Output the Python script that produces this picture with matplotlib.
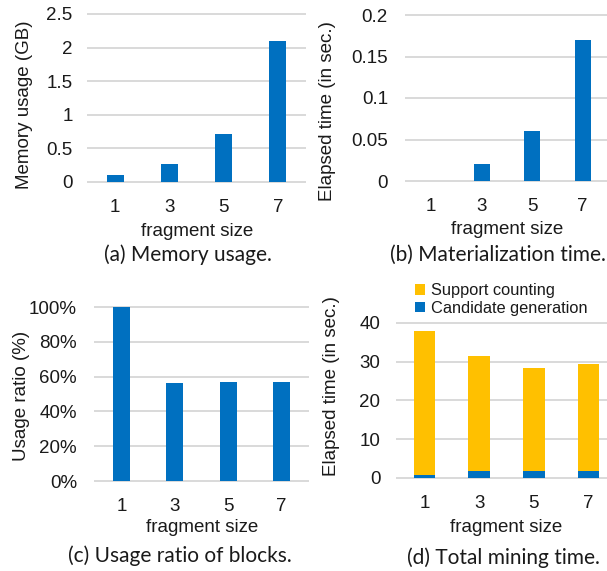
import matplotlib
matplotlib.use("Agg")
import matplotlib.pyplot as plt
from matplotlib.ticker import PercentFormatter

plt.rcParams['font.family'] = ['Liberation Sans', 'DejaVu Sans']

W, H = 607, 571
BLUE = '#0070C0'
YELLOW = '#FFC000'
GRID = '#D9D9D9'
TXT = '#1a1a1a'

frag_sizes = ['1', '3', '5', '7']
memory_gb = [0.11, 0.27, 0.72, 2.10]
mat_time = [0.0, 0.02, 0.06, 0.17]
usage_ratio = [100.0, 56.2, 56.8, 56.8]
cand_gen = [0.9, 1.7, 1.7, 1.7]
support_cnt = [37.0, 29.6, 26.7, 27.7]

fig = plt.figure(figsize=(W / 100, H / 100), dpi=100)


def px_axes(left, right, top, bottom):
    return fig.add_axes([left / W, 1 - bottom / H, (right - left) / W, (bottom - top) / H])


def style(ax, ymax, yticks, xpad, ypad):
    ax.set_xlim(-0.5, 3.5)
    ax.set_ylim(0, ymax)
    ax.set_yticks(yticks)
    ax.set_xticks(range(len(frag_sizes)))
    ax.set_xticklabels(frag_sizes)
    for s in ax.spines.values():
        s.set_visible(False)
    ax.tick_params(length=0, labelsize=13.5, colors=TXT)
    ax.tick_params(axis='x', pad=xpad)
    ax.tick_params(axis='y', pad=ypad)
    ax.yaxis.grid(True, color=GRID, linewidth=1.4)
    ax.set_axisbelow(True)
    for gl in ax.get_ygridlines():
        gl.set_clip_on(False)


def ptext(x, y, s, **kw):
    fig.text(x / W, 1 - y / H, s, ha='center', va='center', color=TXT, **kw)


# (a) memory usage
ax = px_axes(88, 305, 14, 182)
ax.bar(range(4), memory_gb, width=0.31, color=BLUE)
style(ax, 2.5, [0, 0.5, 1, 1.5, 2, 2.5], 12, 11)
ax.set_yticklabels(['0', '0.5', '1', '1.5', '2', '2.5'])
ptext(25, 105, 'Memory usage (GB)', rotation=90, fontsize=13.5)
ptext(197, 231, 'fragment size', fontsize=13.5)
ptext(188, 255, '(a) Memory usage.', fontsize=15, family='Lato')

# (b) materialization time
ax = px_axes(406, 608, 15, 181)
ax.bar(range(4), mat_time, width=0.31, color=BLUE)
style(ax, 0.2, [0, 0.05, 0.1, 0.15, 0.2], 12, 13)
ax.set_yticklabels(['0', '0.05', '0.1', '0.15', '0.2'])
ptext(328, 111, 'Elapsed time (in sec.)', rotation=90, fontsize=13.5)
ptext(507, 230, 'fragment size', fontsize=13.5)
ptext(498, 255, '(b) Materialization time.', fontsize=15, family='Lato')

# (c) usage ratio of blocks
ax = px_axes(95, 308, 307, 481)
ax.bar(range(4), usage_ratio, width=0.32, color=BLUE)
style(ax, 100, [0, 20, 40, 60, 80, 100], 12, 13)
ax.yaxis.set_major_formatter(PercentFormatter(decimals=0))
ptext(22, 396, 'Usage ratio (%)', rotation=90, fontsize=13.5)
ptext(202, 527, 'fragment size', fontsize=13.5)
ptext(180, 556, '(c) Usage ratio of blocks.', fontsize=15, family='Lato')

# (d) total mining time, stacked
ax = px_axes(397, 616, 322.7, 478)
b1 = ax.bar(range(4), cand_gen, width=0.39, color=BLUE)
b2 = ax.bar(range(4), support_cnt, width=0.39, bottom=cand_gen, color=YELLOW)
style(ax, 40, [0, 10, 20, 30, 40], 12, 12)
ptext(332, 386, 'Elapsed time (in sec.)', rotation=90, fontsize=13.5)
ptext(506, 527, 'fragment size', fontsize=13.5)
ptext(503, 558, '(d) Total mining time.', fontsize=15, family='Lato')
fig.legend([b2, b1], ['Support counting', 'Candidate generation'],
           loc='upper left', bbox_to_anchor=(412 / W, 1 - 280 / H),
           frameon=False, fontsize=11.8, handlelength=0.6, handleheight=0.6,
           handletextpad=0.35, labelspacing=0.15, borderaxespad=0, borderpad=0.2,
           labelcolor=TXT)

fig.savefig('out.png', dpi=100)
